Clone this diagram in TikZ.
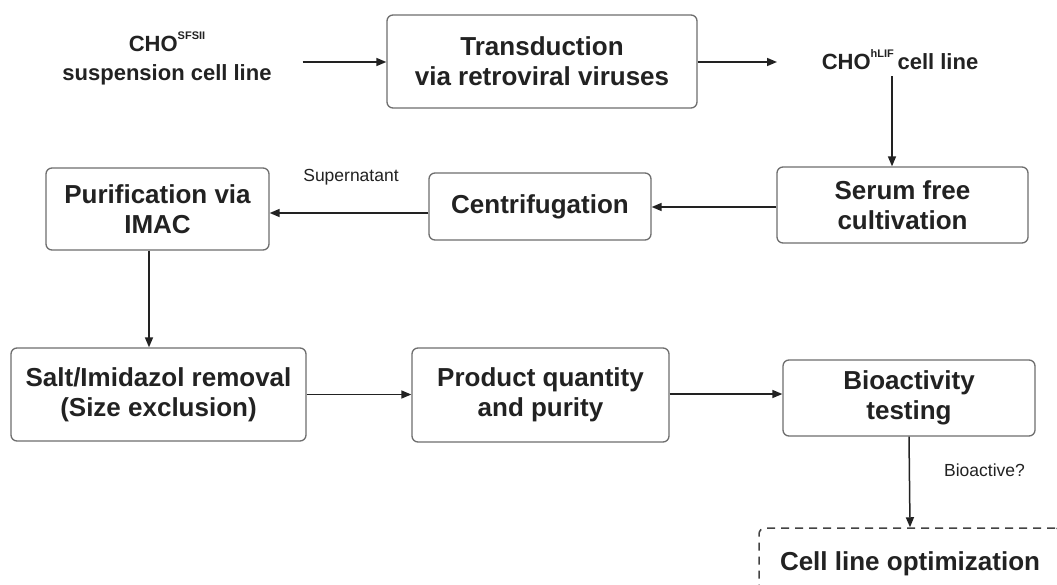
\documentclass[tikz,border=0pt]{standalone}
\usepackage{fontspec}
\setmainfont{Liberation Sans}
\usetikzlibrary{arrows.meta,calc}
\definecolor{txt}{HTML}{222222}
\definecolor{edge}{HTML}{6E6E6E}
\definecolor{arrc}{HTML}{222222}
\tikzset{
  procbox/.style={draw=edge, line width=1.3pt, rounded corners=6pt, align=center,
    text=txt, font=\fontsize{26}{30}\selectfont\bfseries, inner sep=0pt},
  lbl/.style={align=center, text=txt, font=\fontsize{22}{29}\selectfont\bfseries, inner sep=0pt},
  note/.style={text=txt, font=\fontsize{17.5}{20}\selectfont, inner sep=0pt},
  arr/.style={draw=arrc, line width=1.5pt, -{Triangle[length=10pt,width=8pt]}},
  dashbox/.style={procbox, draw=arrc!85, line width=1.5pt, dash pattern=on 8pt off 6pt}
}
\newcommand{\supx}[1]{\raisebox{12pt}{\fontsize{11}{11}\selectfont #1}}
\begin{document}
\begin{tikzpicture}[x=1pt,y=-1pt]
\useasboundingbox (0,0) rectangle (1057,584);
\clip (0,0) rectangle (1057,584);
\fill[white] (0,0) rectangle (1057,584);

\node[lbl] (cho) at (167,58) {CHO\supx{SFSII}\\suspension cell line};
\node[procbox, minimum width=310pt, minimum height=93pt] (trans) at (542,61.5) {Transduction\\via retroviral viruses};
\node[lbl] (hlif) at (900,60) {CHO\supx{hLIF}\,cell line};

\node[procbox, minimum width=251pt, minimum height=76pt] (serum) at (902.5,205) {Serum free\\cultivation};
\node[procbox, minimum width=222pt, minimum height=67pt] (centr) at (540,206.5) {Centrifugation};
\node[procbox, minimum width=223pt, minimum height=82pt] (purif) at (157.5,209) {Purification via\\IMAC};
\node[note] (super) at (351,177) {Supernatant};

\node[procbox, minimum width=295pt, minimum height=93pt] (salt) at (158.5,394.5) {Salt/Imidazol removal\\(Size exclusion)};
\node[procbox, minimum width=257pt, minimum height=94pt] (prod) at (540.5,395) {Product quantity\\and purity};
\node[procbox, minimum width=252pt, minimum height=76pt] (bio) at (909,398) {Bioactivity\\testing};
\node[note] (bioq) at (984.5,470) {Bioactive?};

\node[dashbox, minimum width=302pt, minimum height=72pt] (opt) at (910,564) {Cell line optimization};

\draw[arr] ([xshift=31pt,yshift=-4pt]cho.east) -- ([yshift=-4pt]cho.east -| trans.west);
\draw[arr] (trans.east |- 0,62) -- (777,62) coordinate (hlifin);
\draw[arr] ([xshift=-8pt,yshift=-6pt]hlif.south) -- ([xshift=-10.5pt]serum.north);
\draw[arr] ([yshift=-2pt]serum.west) -- ([yshift=-2pt]serum.west -| centr.east);
\draw[arr] ([yshift=-6.5pt]centr.west) -- ([yshift=-6.5pt]centr.west -| purif.east);
\draw[arr] ([xshift=-8.5pt]purif.south) -- ([xshift=-8.5pt]purif.south |- salt.north);
\draw[arr] (salt.east) -- (salt.east -| prod.west);
\draw[arr] ([yshift=1pt]prod.east) -- ([yshift=1pt]prod.east -| bio.west);
\draw[arr] (bio.south) -- (opt.north);
\end{tikzpicture}
\end{document}
